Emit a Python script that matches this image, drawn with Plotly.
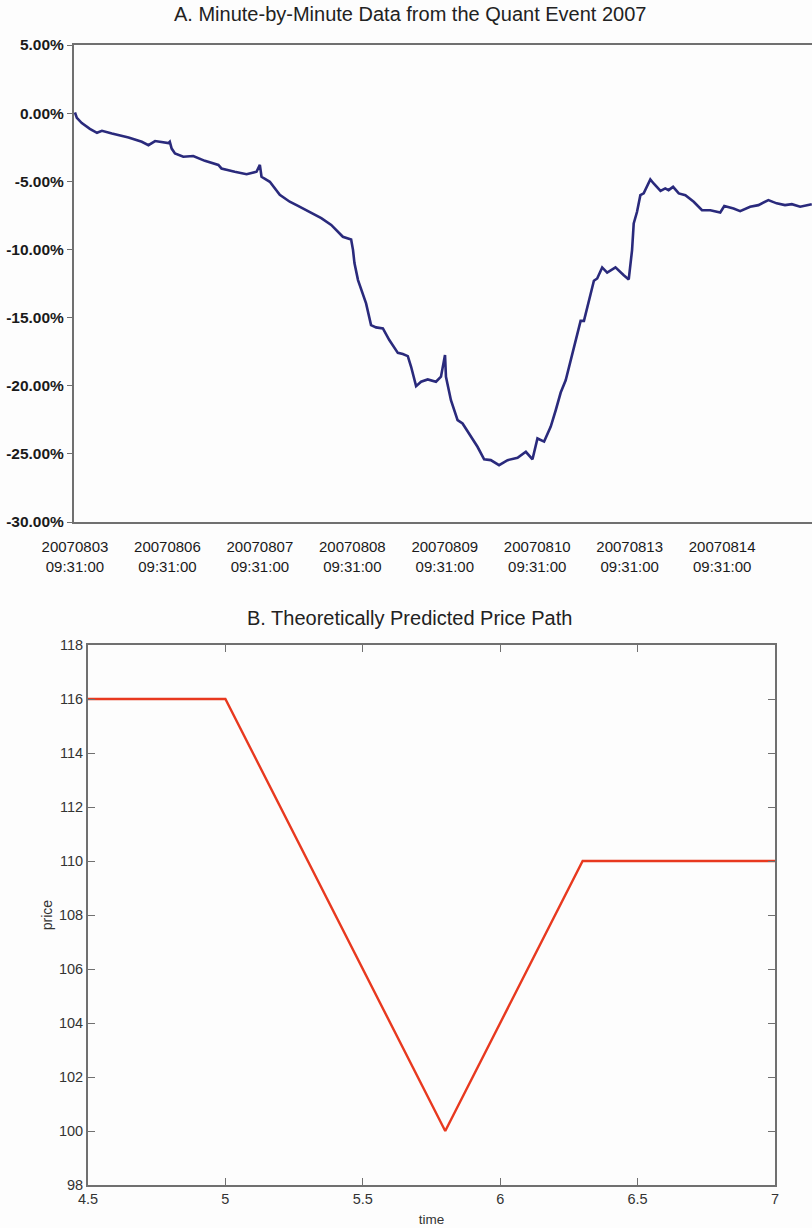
import plotly.graph_objects as go

# ---- Panel A data: minute index (from 2007-08-03 09:31) and cumulative return (%) ----
minute_idx = [0, 8, 29, 63, 93, 114, 156, 226, 282, 310, 338, 366, 394, 400, 408, 422,
              457, 499, 548, 605, 618, 674, 724, 766, 780, 787, 822, 864, 906, 941, 976,
              1039, 1081, 1102, 1130, 1165, 1173, 1179, 1194, 1228, 1249, 1270, 1299, 1326,
              1362, 1383, 1404, 1418, 1439, 1460, 1488, 1523, 1544, 1561, 1565, 1586, 1614,
              1635, 1663, 1698, 1726, 1754, 1789, 1825, 1867, 1902, 1930, 1951, 1979, 2007,
              2028, 2049, 2070, 2102, 2126, 2133, 2147, 2168, 2189, 2203, 2224, 2245, 2280,
              2315, 2336, 2350, 2357, 2371, 2385, 2399, 2427, 2441, 2470, 2490, 2504, 2523,
              2547, 2575, 2610, 2645, 2680, 2722, 2739, 2778, 2806, 2848, 2883, 2925, 2960,
              2995, 3024, 3059, 3108]
ret_pct = [0.05, -0.35, -0.73, -1.15, -1.44, -1.30, -1.50, -1.78, -2.10, -2.35, -2.05, -2.10,
           -2.20, -2.10, -2.60, -2.96, -3.20, -3.15, -3.50, -3.80, -4.06, -4.30, -4.48, -4.30,
           -3.80, -4.67, -5.04, -6.00, -6.50, -6.80, -7.10, -7.70, -8.20, -8.58, -9.07, -9.27,
           -10.05, -11.00, -12.25, -13.96, -15.55, -15.72, -15.80, -16.65, -17.59, -17.68,
           -17.83, -18.61, -20.03, -19.71, -19.54, -19.71, -19.34, -17.75, -19.34, -21.06,
           -22.52, -22.77, -23.50, -24.48, -25.40, -25.46, -25.83, -25.46, -25.29, -24.85,
           -25.40, -23.87, -24.10, -23.00, -21.80, -20.50, -19.60, -17.39, -15.90, -15.24,
           -15.24, -13.72, -12.30, -12.13, -11.32, -11.70, -11.32, -11.89, -12.20, -10.05,
           -8.09, -7.24, -6.02, -5.89, -4.86, -5.16, -5.70, -5.52, -5.65, -5.41, -5.89, -6.02,
           -6.50, -7.12, -7.12, -7.29, -6.82, -7.00, -7.19, -6.87, -6.75, -6.38, -6.62, -6.75,
           -6.68, -6.87, -6.68]

a_tick_vals = [0, 390, 780, 1170, 1560, 1950, 2340, 2730]
a_tick_text = ["20070803<br>09:31:00", "20070806<br>09:31:00", "20070807<br>09:31:00",
               "20070808<br>09:31:00", "20070809<br>09:31:00", "20070810<br>09:31:00",
               "20070813<br>09:31:00", "20070814<br>09:31:00"]
a_y_vals = [5, 0, -5, -10, -15, -20, -25, -30]
a_y_text = ["5.00%", "0.00%", "-5.00%", "-10.00%", "-15.00%", "-20.00%", "-25.00%", "-30.00%"]

# ---- Panel B data ----
time_vals = [4.5, 5.0, 5.8, 6.3, 7.0]
price_vals = [116, 116, 100, 110, 110]
b_x_ticks = [4.5, 5, 5.5, 6, 6.5, 7]
b_x_text = ["4.5", "5", "5.5", "6", "6.5", "7"]
b_y_ticks = [98, 100, 102, 104, 106, 108, 110, 112, 114, 116, 118]

FONT = "Liberation Sans, Arial, Helvetica, sans-serif"
W, H = 812, 1228

fig = go.Figure()
fig.add_trace(go.Scatter(x=minute_idx, y=ret_pct, mode="lines",
                         line=dict(color="#2A2A7C", width=2.6),
                         xaxis="x", yaxis="y", showlegend=False))
fig.add_trace(go.Scatter(x=time_vals, y=price_vals, mode="lines",
                         line=dict(color="#E8391F", width=2.4),
                         xaxis="x2", yaxis="y2", showlegend=False))

AX = "#707070"
fig.update_layout(
    width=W, height=H,
    margin=dict(l=0, r=0, t=0, b=0),
    paper_bgcolor="#FDFDFD", plot_bgcolor="#FDFDFD",
    font=dict(family=FONT, color="#222222"),
    xaxis=dict(domain=[74 / W, 1.0], anchor="y", range=[-4, 3109], automargin=False,
               tickvals=a_tick_vals, ticktext=a_tick_text,
               tickfont=dict(size=15, color="#1A1A1A"), ticklabelstandoff=10,
               showline=True, linecolor=AX, linewidth=2, mirror=True,
               ticks="", showgrid=False, zeroline=False),
    yaxis=dict(domain=[1 - 522 / H, 1 - 45 / H], anchor="x", range=[-30, 5], automargin=False,
               tickvals=a_y_vals, ticktext=a_y_text,
               tickfont=dict(size=15.5, color="#1A1A1A", weight="bold"),
               showline=True, linecolor=AX, linewidth=2,
               ticks="outside", ticklen=5, tickcolor=AX,
               showgrid=False, zeroline=False),
    xaxis2=dict(domain=[88 / W, 775 / W], anchor="y2", range=[4.5, 7], automargin=False,
                tickvals=b_x_ticks, ticktext=b_x_text,
                tickfont=dict(size=14.5, color="#333333"),
                showline=True, linecolor=AX, linewidth=2, mirror="allticks",
                ticks="inside", ticklen=7, tickcolor=AX,
                showgrid=False, zeroline=False,
                title=dict(text="time", font=dict(size=13.5, color="#333333"), standoff=8)),
    yaxis2=dict(domain=[1 - 1185 / H, 1 - 645 / H], anchor="x2", range=[98, 118], automargin=False,
                tickvals=b_y_ticks,
                tickfont=dict(size=14.5, color="#333333"),
                showline=True, linecolor=AX, linewidth=2, mirror="allticks",
                ticks="inside", ticklen=7, tickcolor=AX,
                showgrid=False, zeroline=False,
                title=dict(text="price", font=dict(size=14, color="#333333"), standoff=3)),
    annotations=[
        dict(text="A. Minute-by-Minute Data from the Quant Event 2007", x=410 / W,
             y=1 - 14 / H, xref="paper", yref="paper", showarrow=False,
             font=dict(size=20, color="#222222"), xanchor="center", yanchor="middle"),
        dict(text="B. Theoretically Predicted Price Path", x=409 / W,
             y=1 - 618 / H, xref="paper", yref="paper", showarrow=False,
             font=dict(size=20, color="#222222"), xanchor="center", yanchor="middle"),
    ],
)

fig.write_html("out.html", config={"displayModeBar": False},
               post_script="document.body.style.margin='0';")
